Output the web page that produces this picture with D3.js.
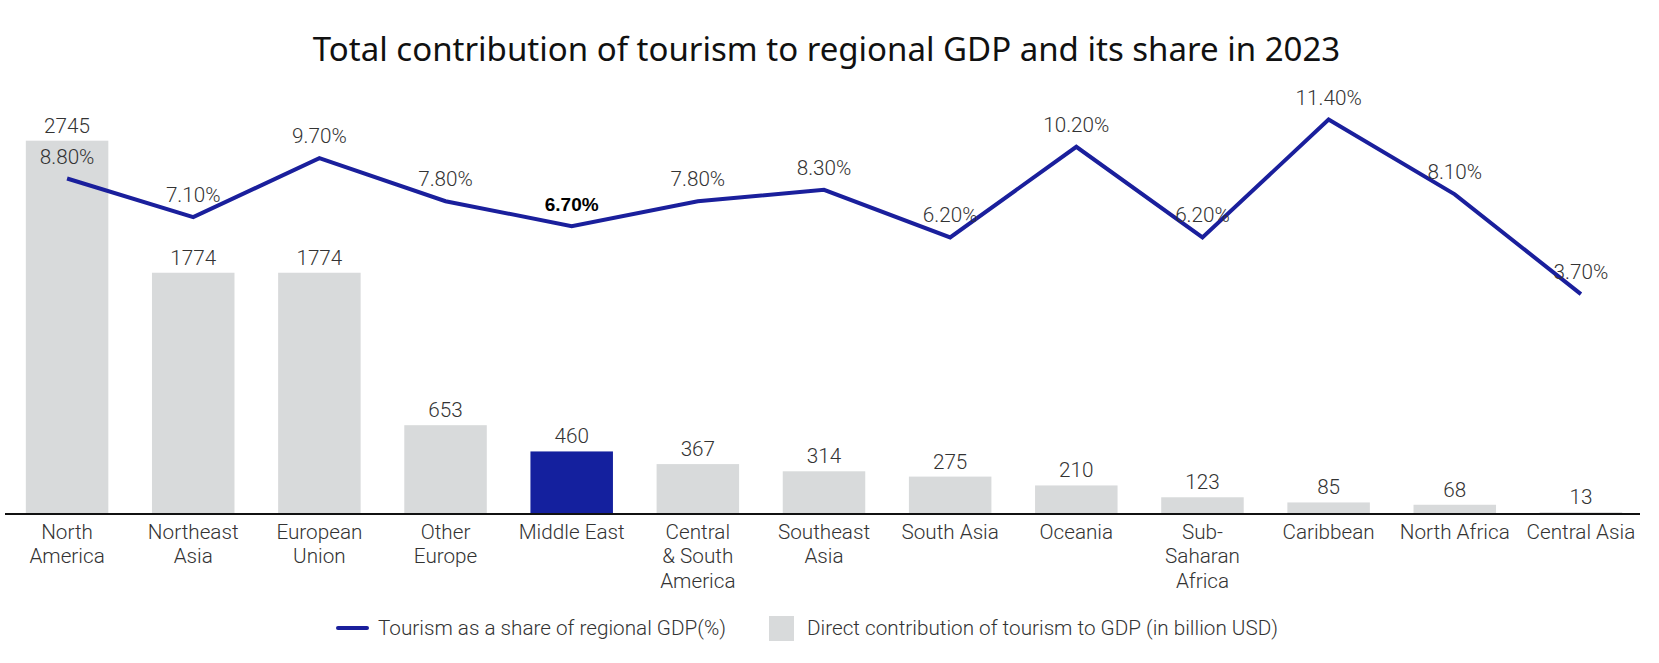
<!DOCTYPE html>
<html>
<head>
<meta charset="utf-8">
<script src="https://cdn.jsdelivr.net/npm/d3@7/dist/d3.min.js"></script>
<style>
  html, body { margin: 0; padding: 0; background: #fff; }
  svg { display: block; }
</style>
</head>
<body>
<svg id="chart" width="1659" height="663"></svg>
<script>
// ---- Data ----
const categories = [
  "North\nAmerica", "Northeast\nAsia", "European\nUnion", "Other\nEurope", "Middle East",
  "Central\n& South\nAmerica", "Southeast\nAsia", "South Asia", "Oceania",
  "Sub-\nSaharan\nAfrica", "Caribbean", "North Africa", "Central Asia"
];
const directContribution = [2745, 1774, 1774, 653, 460, 367, 314, 275, 210, 123, 85, 68, 13];
const shareOfGDP = [8.8, 7.1, 9.7, 7.8, 6.7, 7.8, 8.3, 6.2, 10.2, 6.2, 11.4, 8.1, 3.7];
const highlightCategory = "Middle East";
const titleText = "Total contribution of tourism to regional GDP and its share in 2023";
const legendLabels = ["Tourism as a share of regional GDP(%)", "Direct contribution of tourism to GDP (in billion USD)"];

// ---- Layout ----
const W = 1659, H = 663;
const svg = d3.select("#chart");
const axisY = 514;
const topY = 106;
const gray = "#d8dadb";
const blue = "#1a1f9c";
const barBlue = "#14209e";
const textColor = "#333";
const font = "Roboto, 'Noto Sans', sans-serif";
const fs = 20.7;
const fw = 300;

const x = d3.scaleBand()
  .domain(categories)
  .range([4, 1644])
  .paddingInner(0.346)
  .paddingOuter(0.173);

const yBar = d3.scaleLinear().domain([0, 3000]).range([axisY, topY]);
const yLine = d3.scaleLinear().domain([-6, 12]).range([axisY, topY]);

const barData = categories.map((c, i) => ({ c, v: directContribution[i], p: shareOfGDP[i] }));

// Title
svg.append("text")
  .attr("x", W / 2 - 3)
  .attr("y", 61)
  .attr("text-anchor", "middle")
  .attr("font-family", "'Noto Sans', 'Open Sans', sans-serif")
  .attr("font-size", 33)
  .attr("fill", "#111")
  .text(titleText);

// Bars
svg.append("g").selectAll("rect")
  .data(barData)
  .join("rect")
  .attr("x", d => x(d.c))
  .attr("y", d => yBar(d.v))
  .attr("width", x.bandwidth())
  .attr("height", d => axisY - yBar(d.v))
  .attr("fill", d => d.c === highlightCategory ? barBlue : gray);

// Bar value labels
svg.append("g").selectAll("text")
  .data(barData)
  .join("text")
  .attr("x", d => x(d.c) + x.bandwidth() / 2)
  .attr("y", d => yBar(d.v) - 8)
  .attr("text-anchor", "middle")
  .attr("font-family", font)
  .attr("font-size", fs)
  .attr("font-weight", fw)
  .attr("fill", textColor)
  .text(d => d.v);

// X axis line
const xAxis = d3.axisBottom(x).tickSize(0).tickFormat("");
const axisG = svg.append("g").attr("transform", `translate(0,${axisY})`).call(xAxis);
axisG.select(".domain").attr("d", `M5,0H1640`).attr("stroke", "#111").attr("stroke-width", 2);

// Category labels
const catG = svg.append("g");
barData.forEach(d => {
  const lines = d.c.split("\n");
  const t = catG.append("text")
    .attr("x", x(d.c) + x.bandwidth() / 2)
    .attr("y", axisY + 25)
    .attr("text-anchor", "middle")
    .attr("font-family", font)
    .attr("font-size", fs)
    .attr("font-weight", fw)
    .attr("fill", textColor);
  lines.forEach((ln, j) => {
    t.append("tspan")
      .attr("x", x(d.c) + x.bandwidth() / 2)
      .attr("dy", j === 0 ? 0 : 24.4)
      .text(ln);
  });
});

// Line
const line = d3.line()
  .x(d => x(d.c) + x.bandwidth() / 2)
  .y(d => yLine(d.p));
svg.append("path")
  .datum(barData)
  .attr("d", line)
  .attr("fill", "none")
  .attr("stroke", blue)
  .attr("stroke-width", 4)
  .attr("stroke-linejoin", "miter");

// Line labels
svg.append("g").selectAll("text")
  .data(barData)
  .join("text")
  .attr("x", d => x(d.c) + x.bandwidth() / 2)
  .attr("y", d => yLine(d.p) - 15)
  .attr("text-anchor", "middle")
  .attr("font-family", d => d.c === highlightCategory ? "'Liberation Sans', Arial, sans-serif" : font)
  .attr("font-size", d => d.c === highlightCategory ? 19 : fs)
  .attr("font-weight", d => d.c === highlightCategory ? 600 : fw)
  .attr("fill", d => d.c === highlightCategory ? "#000" : textColor)
  .text(d => d.p.toFixed(2) + "%");

// Legend
const lg = svg.append("g");
lg.append("line")
  .attr("x1", 338).attr("x2", 367)
  .attr("y1", 628).attr("y2", 628)
  .attr("stroke", blue).attr("stroke-width", 4).attr("stroke-linecap", "round");
lg.append("text")
  .attr("x", 378).attr("y", 635)
  .attr("font-family", font).attr("font-size", fs).attr("font-weight", fw).attr("fill", textColor)
  .text(legendLabels[0]);
lg.append("rect")
  .attr("x", 769).attr("y", 616).attr("width", 25).attr("height", 25)
  .attr("fill", gray);
lg.append("text")
  .attr("x", 807).attr("y", 635)
  .attr("font-family", font).attr("font-size", fs).attr("font-weight", fw).attr("fill", textColor)
  .text(legendLabels[1]);
</script>
</body>
</html>
